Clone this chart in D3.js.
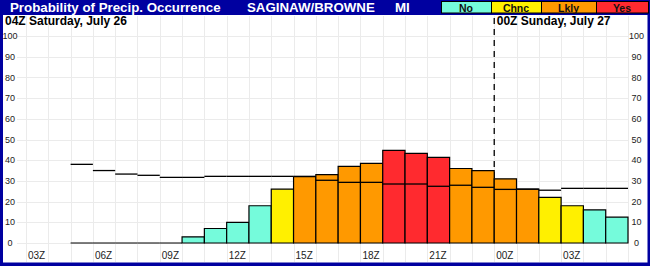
<!DOCTYPE html>
<html lang="en">
<head>
  <meta charset="UTF-8">
  <title>Probability of Precip. Occurrence</title>
  <style>
    body{ margin: 0; background: #fff; }
    svg{ display: block; font-family: "Liberation Sans", Arial, sans-serif; }
    .grid line{ stroke: #ebebeb; stroke-width: 1px; shape-rendering: crispEdges; }
    .bar{ stroke: #000; stroke-width: 1.2px; }
    .step{ stroke: #000; stroke-width: 1.3px; fill: none; }
  </style>
</head>
<body>
  <script src="https://cdn.jsdelivr.net/npm/d3@7/dist/d3.min.js"></script>
  <script>
    const width = 650, height = 266;

    // hour index: 0 = 00Z Sat Jul 26, 24 = 00Z Sun Jul 27
    const barHours = d3.range(5, 30);
    const popValues = [0, 0, 0, 0, 0, 3, 7, 10, 18, 26, 32, 33, 37, 38.5, 44.7, 43.3, 41.4, 36, 35, 31, 26, 22, 18, 16, 12.5];
    const popCats = ['No', 'No', 'No', 'No', 'No', 'No', 'No', 'No', 'No', 'Chnc', 'Lkly', 'Lkly', 'Lkly', 'Lkly',
      'Yes', 'Yes', 'Yes', 'Lkly', 'Lkly', 'Lkly', 'Lkly', 'Chnc', 'Chnc', 'No', 'No'];
    const stepValues = [38, 35, 33.3, 32.7, 31.7, 31.7, 32.2, 32.2, 32.2, 32.2, 32.2, 30.3, 29.3, 29.3, 28.5, 28.5,
      27.4, 27.9, 26.9, 25.9, 26, 25.5, 26.4, 26.4, 26.4];
    const tickHours = [3, 6, 9, 12, 15, 18, 21, 24, 27];
    const tickLabels = ['03Z', '06Z', '09Z', '12Z', '15Z', '18Z', '21Z', '00Z', '03Z'];
    const yTicks = [0, 10, 20, 30, 40, 50, 60, 70, 80, 90, 100];
    const categories = ['No', 'Chnc', 'Lkly', 'Yes'];
    const catColors = ['#75fbdb', '#fff000', '#ff9900', '#ff2a2f'];

    const x = d3.scaleLinear().domain([3, 30]).range([26, 628]);
    const y = d3.scaleLinear().domain([0, 100]).range([243, 36]);
    const color = d3.scaleOrdinal().domain(categories).range(catColors);

    const svg = d3.select('body').append('svg').attr('width', width).attr('height', height);

    // blue frame + header
    svg.append('rect').attr('width', width).attr('height', height).attr('fill', '#0000a0');
    svg.append('rect').attr('x', 3).attr('y', 15).attr('width', 644.5).attr('height', 247.5).attr('fill', '#fff');

    // grid
    const grid = svg.append('g').attr('class', 'grid');
    grid.selectAll('line.v').data(d3.range(3, 31)).enter().append('line')
      .attr('class', 'v')
      .attr('x1', d => Math.round(x(d)) + 0.5).attr('x2', d => Math.round(x(d)) + 0.5)
      .attr('y1', 16).attr('y2', 262);
    grid.selectAll('line.h').data(yTicks).enter().append('line')
      .attr('class', 'h')
      .attr('x1', 17).attr('x2', x(30) + 1)
      .attr('y1', d => Math.round(y(d)) + 0.5).attr('y2', d => Math.round(y(d)) + 0.5);

    // y labels both sides
    [10, 636.5].forEach(function(cx){
      svg.append('g').selectAll('text').data(yTicks).enter().append('text')
        .attr('x', cx).attr('y', d => y(d))
        .attr('dy', '0.35em')
        .attr('text-anchor', 'middle')
        .attr('font-size', 9)
        .attr('fill', '#222')
        .text(d => d);
    });

    // x labels
    svg.append('g').selectAll('text').data(tickHours).enter().append('text')
      .attr('x', d => x(d) + 2).attr('y', 259)
      .attr('font-size', 10)
      .attr('fill', '#222')
      .text((d, i) => tickLabels[i]);

    // day break
    svg.append('line')
      .attr('x1', x(24)).attr('x2', x(24))
      .attr('y1', 18).attr('y2', y(0))
      .attr('stroke', '#000').attr('stroke-width', 1.3)
      .attr('stroke-dasharray', '6,5');

    // bars (path so zero-height bars still show as a line)
    svg.append('g').selectAll('path.bar').data(barHours).enter().append('path')
      .attr('class', 'bar')
      .attr('fill', (d, i) => color(popCats[i]))
      .attr('d', function(d, i){
        const x0 = x(d), x1 = x(d + 1), y0 = y(0), y1 = y(popValues[i]);
        return `M${x0},${y0}V${y1}H${x1}V${y0}Z`;
      });

    // step line segments
    svg.append('g').selectAll('line.step').data(barHours).enter().append('line')
      .attr('class', 'step')
      .attr('x1', d => x(d)).attr('x2', d => x(d + 1))
      .attr('y1', (d, i) => y(stepValues[i])).attr('y2', (d, i) => y(stepValues[i]));

    // date labels
    svg.append('text').attr('x', 5).attr('y', 25)
      .attr('font-size', 12).attr('font-weight', 'bold').text('04Z Saturday, July 26');
    svg.append('text').attr('x', x(24) + 2.5).attr('y', 25)
      .attr('font-size', 12).attr('font-weight', 'bold').text('00Z Sunday, July 27');

    // header texts
    const head = svg.append('g').attr('fill', '#fff').attr('font-weight', 'bold').attr('font-size', 13.3);
    head.append('text').attr('x', 10).attr('y', 12).text('Probability of Precip. Occurrence');
    head.append('text').attr('x', 247).attr('y', 12).text('SAGINAW/BROWNE');
    head.append('text').attr('x', 395).attr('y', 12).text('MI');

    // legend
    const legendX = [441, 491, 541, 596, 648];
    const legend = svg.append('g');
    legend.selectAll('rect').data(categories).enter().append('rect')
      .attr('x', (d, i) => legendX[i] + 0.5).attr('y', 1.5)
      .attr('width', (d, i) => legendX[i + 1] - legendX[i]).attr('height', 11.5)
      .attr('fill', d => color(d))
      .attr('stroke', '#000').attr('stroke-width', 1);
    legend.selectAll('text').data(categories).enter().append('text')
      .attr('x', (d, i) => (legendX[i] + legendX[i + 1]) / 2).attr('y', 11.5)
      .attr('text-anchor', 'middle')
      .attr('font-size', 10.5)
      .attr('font-weight', 'bold')
      .attr('fill', '#111')
      .text(d => d);
  </script>
</body>
</html>
